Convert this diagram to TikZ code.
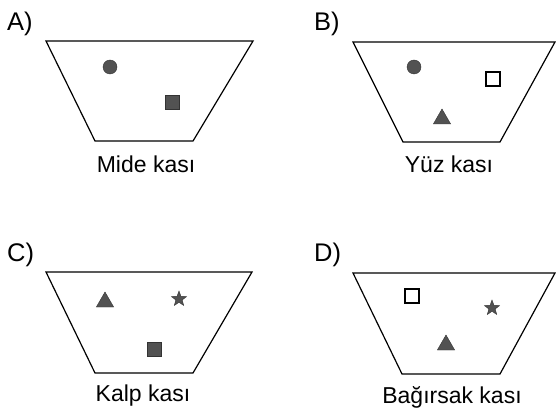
\documentclass[tikz,border=0pt]{standalone}
\usepackage{fontspec}
\setmainfont{Liberation Sans}
\usetikzlibrary{shapes.geometric}
\definecolor{mk}{gray}{0.32}
\begin{document}
\begin{tikzpicture}[x=1pt,y=-1pt,
  edge/.style={line width=1.2pt, line join=miter},
  captxt/.style={font=\fontsize{23}{27}\selectfont, anchor=base, inner sep=0},
  lab/.style={font=\fontsize{25.5}{30}\selectfont, anchor=base west, inner sep=0},
  dot/.style={circle, fill=mk, draw=black!80, inner sep=0, minimum size=14pt},
  fsq/.style={rectangle, fill=mk, draw=black!80, inner sep=0, minimum size=14pt},
  osq/.style={rectangle, draw=black, line width=1.5pt, fill=white, inner sep=0, minimum size=14pt},
  tri/.style={regular polygon, regular polygon sides=3, fill=mk, draw=black!80, inner sep=0, minimum size=20pt},
  st/.style={star, star points=5, star point ratio=2.4, fill=mk, draw=black!80, inner sep=0, minimum size=16pt},
]
\useasboundingbox (0,0) rectangle (556,414);
% A
\node[lab] (la) at (7,31) {A)};
\draw[edge] (46,41) -- (253,41) -- (193,141) -- (95,141) -- cycle;
\node[dot] (a1) at (110,67) {};
\node[fsq] (a2) at (172,102) {};
\node[captxt] (ca) at (146,172) {Mide kası};
% B
\node[lab] (lb) at (314,31) {B)};
\draw[edge] (353,42) -- (555,42) -- (500,142) -- (403,142) -- cycle;
\node[dot] (b1) at (414,67) {};
\node[osq] (b2) at (493,79) {};
\node[tri] (b3) at (442,119) {};
\node[captxt] (cb) at (449,172) {Yüz kası};
% C
\node[lab] (lc) at (7,261) {C)};
\draw[edge] (46,272) -- (252,272) -- (193,373) -- (95,373) -- cycle;
\node[tri] (c1) at (105,302) {};
\node[st] (c2) at (179,299) {};
\node[fsq] (c3) at (154,349) {};
\node[captxt] (cc) at (143,401) {Kalp kası};
% D
\node[lab] (ld) at (314,261) {D)};
\draw[edge] (353,273) -- (555,273) -- (500,374) -- (402,374) -- cycle;
\node[osq] (d1) at (412,296) {};
\node[st] (d2) at (492,308) {};
\node[tri] (d3) at (446,345) {};
\node[captxt] (cd) at (452,403) {Bağırsak kası};
\end{tikzpicture}
\end{document}
